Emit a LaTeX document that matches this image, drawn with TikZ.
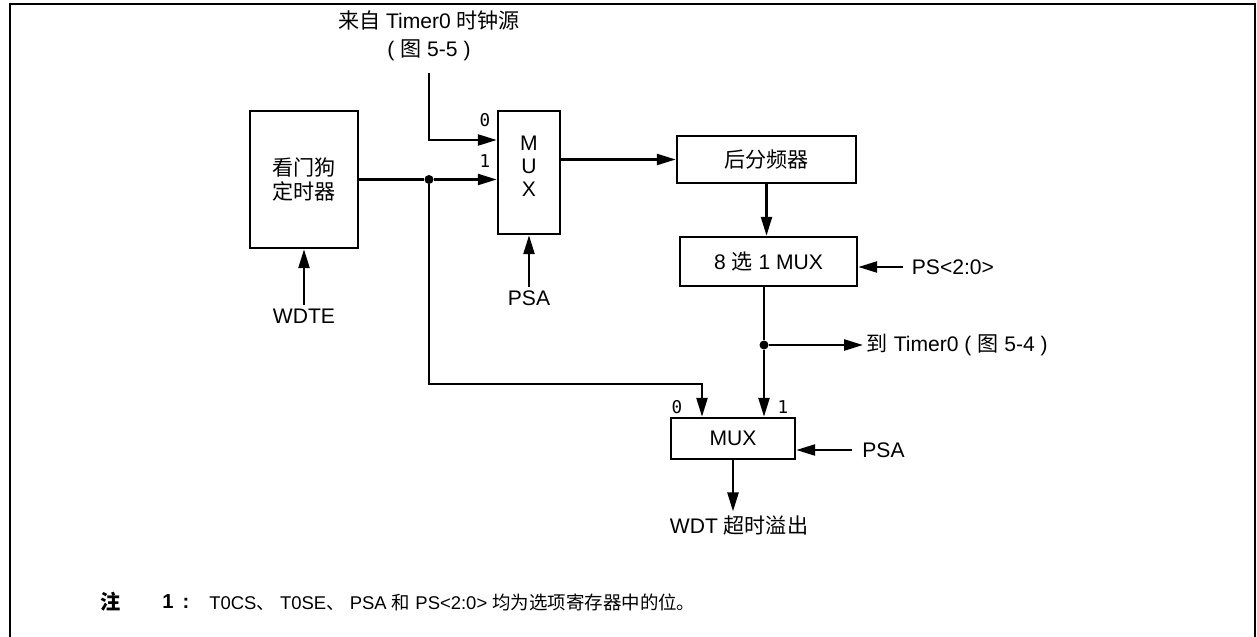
\documentclass[tikz,border=0pt]{standalone}
\usepackage{fontspec}
\setmainfont{Liberation Sans}
\newfontfamily\cjk{Noto Sans CJK SC}
\newfontfamily\monof{DejaVu Sans Mono}
\newcommand{\hz}[1]{{\cjk #1}}
\usetikzlibrary{arrows.meta}
\tikzset{
  blk/.style={draw, line width=1.4pt, align=center, inner sep=0pt, font=\fontsize{12}{14}\selectfont},
  lbl/.style={font=\fontsize{12}{16}\selectfont, inner sep=2pt, align=center},
  notelbl/.style={font=\fontsize{10.5}{13}\selectfont, inner sep=2pt, anchor=west},
  pinlab/.style={font=\monof\fontsize{10}{12}\selectfont, inner sep=0pt},
  sig/.style={-{Triangle[length=0.38cm, width=0.22cm]}, line width=1.4pt},
  wire/.style={line width=1.4pt},
  joint/.style={circle, fill, inner sep=0pt, minimum size=0.18cm},
}
\begin{document}
\begin{tikzpicture}
    \useasboundingbox (0,0) rectangle (25.14,12.72);
    \draw[line width=1.6pt] (0.2,-0.2) -- (0.2,12.64) -- (25.1,12.64) -- (25.1,-0.2);
    \node[lbl] (src) at (8.58,12.0) {\hz{来自} Timer0 \hz{时钟源}\\( \hz{图} 5-5 )};
    \coordinate (srcend) at (8.58,11.26);
    \node[blk, minimum width=2.16cm, minimum height=2.74cm] (wdt) at (6.08,9.13) {\hz{看门狗}\\\hz{定时器}};
    \node[lbl] (wdte) at (6.08,6.4) {WDTE};
    \node[blk, minimum width=1.24cm, minimum height=2.46cm] (muxa) at (10.58,9.27) {};
    \node[lbl, font=\fontsize{12}{13}\selectfont] (muxalab) at (10.58,9.39) {M\\U\\X};
    \node[pinlab] (a0) at (9.7,10.32) {0};
    \node[pinlab] (a1) at (9.7,9.5) {1};
    \node[lbl] (psaa) at (10.58,6.76) {PSA};
    \node[joint] (ja) at (8.58,9.13) {};
    \node[blk, minimum width=3.58cm, minimum height=0.94cm] (post) at (15.33,9.53) {\hz{后分频器}};
    \node[blk, minimum width=3.54cm, minimum height=0.98cm] (psmux) at (15.37,7.49) {8 \hz{选} 1 MUX};
    \node[lbl, anchor=west] (pslab) at (18.16,7.38) {PS<2:0>};
    \node[joint] (jb) at (15.28,5.82) {};
    \node[lbl, anchor=west] (totmr) at (17.26,5.82) {\hz{到} Timer0 ( \hz{图} 5-4 )};
    \node[blk, minimum width=2.48cm, minimum height=0.82cm] (muxb) at (14.66,3.95) {MUX};
    \node[pinlab] (b0) at (13.54,4.58) {0};
    \node[pinlab] (b1) at (15.66,4.58) {1};
    \node[lbl, anchor=west] (psab) at (17.17,3.72) {PSA};
    \node[lbl] (wdtout) at (14.78,2.22) {WDT \hz{超时溢出}};
    \coordinate (bend) at (14.04,5.04);
    \draw[sig] (srcend) |- ([yshift=0.65cm]muxa.west);
    \draw[sig] (wdte) -- (wdt.south);
    \draw[wire] (wdt.east) -- (ja);
    \draw[sig] (ja) -- (ja -| muxa.west);
    \draw[sig] (psaa) -- (muxa.south);
    \draw[sig] (muxa.east |- post) -- (post.west);
    \draw[sig] (post.south) -- (post.south |- psmux.north);
    \draw[sig] ([xshift=-0.1cm]pslab.west) -- (pslab.west -| psmux.east);
    \draw[wire] (jb |- psmux.south) -- (jb);
    \draw[sig] (jb) -- (totmr.west);
    \draw[sig] (jb) -- (jb |- muxb.north);
    \draw[sig] (ja) |- (bend) -- (bend |- muxb.north);
    \draw[sig] ([xshift=-0.13cm]psab.west) -- (psab.west -| muxb.east);
    \draw[sig] (muxb.south) -- (muxb.south |- wdtout.north);
    \node[notelbl, font=\fontsize{11.5}{13}\selectfont] (notehd) at (1.93,0.68) {\hz{\bfseries 注}};
    \node[notelbl, font=\fontsize{11.5}{13}\selectfont] (notenum) at (3.17,0.68) {\bfseries 1\hspace{0.45em}:};
    \node[notelbl] (notetxt) at (4.11,0.68) {T0CS\hz{、} T0SE\hz{、} PSA \hz{和} PS<2:0> \hz{均为选项寄存器中的位。}};
\end{tikzpicture}
\end{document}
